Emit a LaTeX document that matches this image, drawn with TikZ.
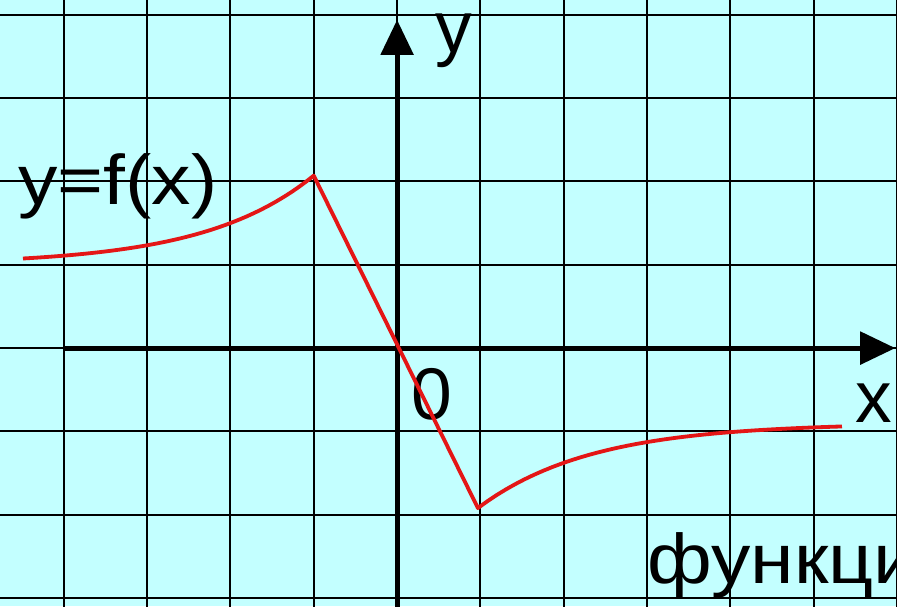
\documentclass[tikz,border=0pt]{standalone}
\usepackage{fontspec}
\setmainfont{Liberation Sans}
\newfontfamily\widesans[FakeStretch=1.12]{Liberation Sans}
\usetikzlibrary{positioning,arrows.meta}
\definecolor{paper}{RGB}{195,255,255}
\definecolor{graphred}{RGB}{228,22,22}

\begin{document}
\begin{tikzpicture}[
	gridline/.style={draw=black, line width=0.7pt},
	axis/.style={line width=1.7pt, -{Triangle[length=12pt,width=11pt]}},
	graph/.style={graphred, line width=1.3pt, line join=round},
	lbl/.style={font=\fontsize{25}{28}\selectfont, inner sep=0pt, anchor=base west},
	widelbl/.style={lbl, font=\widesans\fontsize{24}{28}\selectfont}
	]
	\clip (-4.766,-3.097) rectangle (6.0,4.178);
	\fill[paper] (-4.766,-3.097) rectangle (6.0,4.178);
	\draw[gridline] (-5,-4) grid (6,5);
	% axes
	\coordinate (xstart) at (-4.01,0);
	\coordinate (xend) at (5.98,0);
	\coordinate (ybot) at (0,-3.4);
	\coordinate (ytop) at (0,3.94);
	\draw[axis] (xstart) -- (xend);
	\draw[axis] (ybot) -- (ytop);
	\node[lbl] (ylab) at (0.45,3.55) {y};
	\node[lbl] (xlab) at (5.50,-0.89) {x};
	\node[lbl] (zero) at (0.17,-0.86) {0};
	\node[widelbl] (fname) at (-4.55,1.72) {y=f(x)};
	\node[widelbl] (word) at (3.0,-2.82) {функции};
	% graph
	\draw[graph] plot[domain=-4.49:-1, samples=40] (\x, {1+1.07*exp(0.76*(\x+1))})
		-- plot[domain=0.97:5.34, samples=40] (\x, {-0.9-1.02*exp(-0.738*(\x-0.97))});
\end{tikzpicture}
\end{document}
